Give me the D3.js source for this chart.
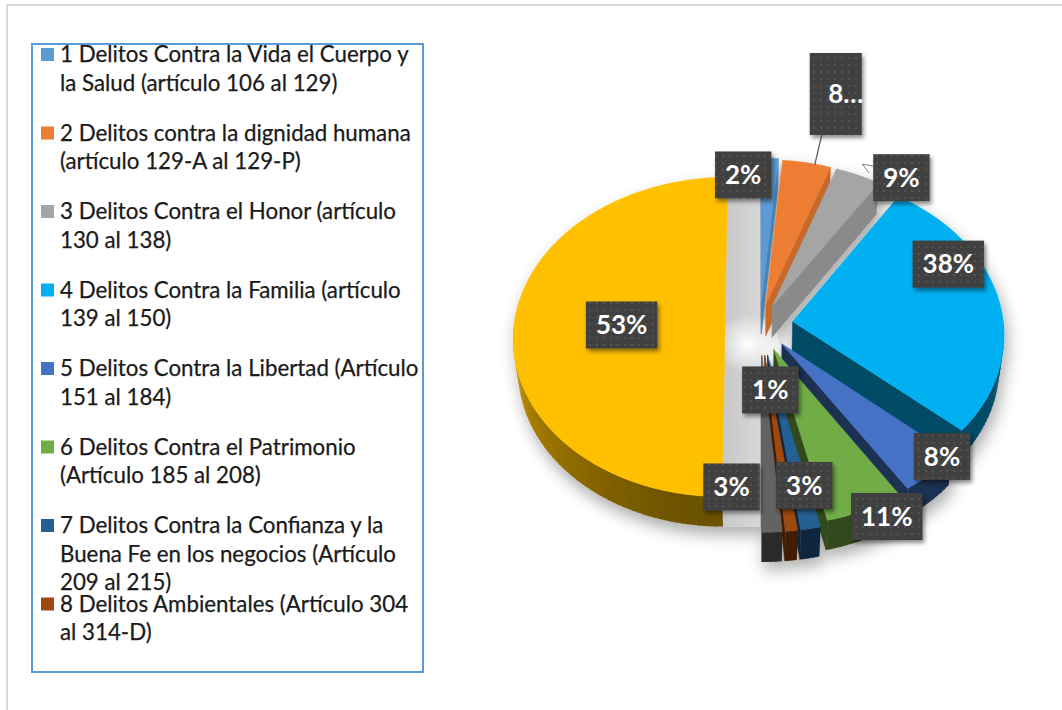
<!DOCTYPE html>
<html>
<head>
<meta charset="utf-8">
<script src="https://cdn.jsdelivr.net/npm/d3@7"></script>
<style>
  body { margin: 0; background: #fff; }
  svg { display: block; }
</style>
</head>
<body>
<svg id="chart"></svg>
<script>
// legend categories (line breaks as wrapped in the original)
const categories = [
  "1 Delitos Contra la Vida el Cuerpo y\nla Salud (artículo 106 al 129)",
  "2 Delitos contra la dignidad humana\n(artículo 129-A al 129-P)",
  "3 Delitos Contra el Honor (artículo\n130 al 138)",
  "4 Delitos Contra la Familia (artículo\n139 al 150)",
  "5 Delitos Contra la Libertad (Artículo\n151 al 184)",
  "6 Delitos Contra el Patrimonio\n(Artículo 185 al 208)",
  "7 Delitos Contra la Confianza y la\nBuena Fe en los negocios (Artículo\n209 al 215)",
  "8 Delitos Ambientales (Artículo 304\nal 314-D)"
];
// slice sizes as drawn (share of the pie), slices 9 and 10 are not in the legend
const sliceValues = [1.4, 4.0, 3.75, 27.2, 4.45, 5.55, 1.4, 0.85, 1.4, 50.0];
const labelTexts = ["2%", "8…", "9%", "38%", "8%", "11%", "3%", "1%", "3%", "53%"];
const colors = ["#5B9BD5", "#ED7D31", "#A5A5A5", "#00B0F0", "#4472C4",
                "#70AD47", "#255E91", "#9E480E", "#636363", "#FFC000"];

// layout
const W = 1062, Hh = 710;
const explode = [30, 28, 28, 33, 33, 35, 40, 40, 40, 35];
// label anchor: [angle in degrees, radius fraction]
const labelAnchor = [[354, 0.88], [14, 1.55], [37, 1.1], [64, 0.85], [133, 0.97],
                     [153, 1.07], [168, 0.77], [173, 0.21], [190, 0.77], [270, 0.49]];

const svg = d3.select("#chart").attr("width", W).attr("height", Hh);
const defs = svg.append("defs");

// chart border
svg.append("rect").attr("x", 7).attr("y", 5).attr("width", 1200).attr("height", 900)
  .attr("fill", "none").attr("stroke", "#d9d9d9").attr("stroke-width", 2);

// ---------- 3D pie ----------
const cx = 760, cy = 325, R = 211, H = 48, phi = 48.8 * Math.PI / 180, f = 1850;
const rad = d => d * Math.PI / 180;

function proj(u, v, z) {
  const d = v * Math.cos(phi) - z * Math.sin(phi);
  const s = f / (f + d);
  return [cx + u * s, cy - (v * Math.sin(phi) + z * Math.cos(phi)) * s];
}

const arcs = d3.pie().sort(null).value(d => d)(sliceValues);
const slices = arcs.map((a, i) => {
  const m = (a.startAngle + a.endAngle) / 2;
  return {
    i, a0: a.startAngle, a1: a.endAngle, m,
    ex: explode[i] * Math.sin(m), ev: explode[i] * Math.cos(m),
    color: colors[i]
  };
});

function pt(sl, t, r, z) {
  return proj(r * Math.sin(t) + sl.ex, r * Math.cos(t) + sl.ev, z);
}
const line = d3.line();

// shadow + glow filters
const fs = defs.append("filter").attr("id", "pieShadow")
  .attr("x", "-20%").attr("y", "-20%").attr("width", "140%").attr("height", "140%");
fs.append("feDropShadow").attr("dx", 3).attr("dy", 8).attr("stdDeviation", 8)
  .attr("flood-color", "#000").attr("flood-opacity", 0.33);

const fl = defs.append("filter").attr("id", "lblShadow")
  .attr("x", "-30%").attr("y", "-30%").attr("width", "160%").attr("height", "160%");
fl.append("feDropShadow").attr("dx", 2).attr("dy", 3).attr("stdDeviation", 2)
  .attr("flood-color", "#000").attr("flood-opacity", 0.45);

const glow = defs.append("radialGradient").attr("id", "glow");
glow.append("stop").attr("offset", "0%").attr("stop-color", "#fff").attr("stop-opacity", 1);
glow.append("stop").attr("offset", "100%").attr("stop-color", "#fff").attr("stop-opacity", 0);

const bandGrad = defs.append("linearGradient").attr("id", "band")
  .attr("x1", 0).attr("x2", 1).attr("y1", 0).attr("y2", 0);
bandGrad.append("stop").attr("offset", "0%").attr("stop-color", "#c8c8c8");
bandGrad.append("stop").attr("offset", "100%").attr("stop-color", "#d6d6d6");

const pat = defs.append("pattern").attr("id", "dots").attr("patternUnits", "userSpaceOnUse")
  .attr("width", 7).attr("height", 7);
pat.append("rect").attr("width", 7).attr("height", 7).attr("fill", "#3f3f3f");
pat.append("circle").attr("cx", 2).attr("cy", 2).attr("r", 0.9).attr("fill", "#5c5c5c");

const pieG = svg.append("g").attr("filter", "url(#pieShadow)");

// inner face band left by the exploded yellow slice
const ys = slices[9];
pieG.append("path")
  .attr("d", line([proj(ys.ex, R, 0), proj(0, R, 0), proj(0, -R, -H), proj(ys.ex, -R, -H)]) + "Z")
  .attr("fill", "url(#band)");
const gc = proj(-12, -25, 0);
pieG.append("ellipse").attr("cx", gc[0]).attr("cy", gc[1]).attr("rx", 32).attr("ry", 30)
  .attr("fill", "url(#glow)");

const cam = [0, -f * Math.cos(phi), f * Math.sin(phi)];
function faceVisible(sl, a, isStart) {
  const n = isStart ? [-Math.cos(a), Math.sin(a)] : [Math.cos(a), -Math.sin(a)];
  const P = [R / 2 * Math.sin(a) + sl.ex, R / 2 * Math.cos(a) + sl.ev];
  return (cam[0] - P[0]) * n[0] + (cam[1] - P[1]) * n[1] > 0;
}
function wallShade(t) {
  const d = t * 180 / Math.PI;
  if (d <= 190) return 2.4;
  return 2.4 - (Math.min(d, 270) - 190) / 80 * 1.8;
}

// draw back to front
const order = slices.slice().sort((p, q) =>
  (R / 2 * Math.cos(q.m) + q.ev) - (R / 2 * Math.cos(p.m) + p.ev));

order.forEach(sl => {
  const g = pieG.append("g");
  const base = d3.color(sl.color);
  if (sl.i !== 9) {
    [[sl.a0, true], [sl.a1, false]].forEach(([a, st]) => {
      if (!faceVisible(sl, a, st)) return;
      const c = base.darker(a < Math.PI / 2 ? 0.5 : 2.4).formatHex();
      g.append("path")
        .attr("d", line([pt(sl, a, 0, 0), pt(sl, a, R, 0), pt(sl, a, R, -H), pt(sl, a, 0, -H)]) + "Z")
        .attr("fill", c).attr("stroke", c).attr("stroke-width", 0.5);
    });
  }
  // outer wall, front half only (small overlapping strips, shaded by direction)
  const w0 = Math.max(sl.a0, Math.PI / 2), w1 = Math.min(sl.a1, 3 * Math.PI / 2);
  if (w1 > w0) {
    const n = Math.max(1, Math.ceil((w1 - w0) / rad(1.5)));
    for (let k = 0; k < n; k++) {
      const t1 = w0 + (w1 - w0) * k / n;
      const t2 = Math.min(w1, w0 + (w1 - w0) * (k + 1) / n + rad(0.6));
      const c = base.darker(wallShade((t1 + t2) / 2)).formatHex();
      g.append("path")
        .attr("d", line([pt(sl, t1, R, 0), pt(sl, t2, R, 0), pt(sl, t2, R, -H), pt(sl, t1, R, -H)]) + "Z")
        .attr("fill", c);
    }
  }
  // top face
  const pts = [pt(sl, 0, 0, 0)];
  const n = Math.max(2, Math.ceil((sl.a1 - sl.a0) / rad(1)));
  for (let k = 0; k <= n; k++) pts.push(pt(sl, sl.a0 + (sl.a1 - sl.a0) * k / n, R, 0));
  g.append("path").attr("d", line(pts) + "Z").attr("fill", sl.color)
    .attr("stroke", sl.color).attr("stroke-width", 0.5);
});

// ---------- data labels ----------
const lblG = svg.append("g");
slices.forEach(sl => {
  const [ang, rf] = labelAnchor[sl.i];
  const [lx, ly] = pt(sl, rad(ang), rf * R, 0);
  const txt = labelTexts[sl.i];
  const cut = txt.endsWith("…");
  const g = lblG.append("g");
  const t = g.append("text").attr("font-family", "Lato, sans-serif").attr("font-weight", "bold")
    .attr("font-size", 26).attr("fill", "#fff").attr("text-anchor", "middle").text(txt);
  const tw = t.node().getComputedTextLength();
  let bw = Math.max(55, tw + 20), bh = 47;
  if (cut) { bw = 52; bh = 82; }
  if (cut) {
    // leader line down to the slice
    const tip = pt(sl, sl.m, R, 0);
    g.insert("line", "text").attr("x1", lx - 14).attr("y1", ly + bh / 2).attr("x2", tip[0] + 8).attr("y2", tip[1] + 2)
      .attr("stroke", "#595959").attr("stroke-width", 1.2);
  }
  if (sl.i === 2) {
    const x0 = lx - bw / 2, y0 = ly - bh / 2;
    g.insert("path", "text")
      .attr("d", line([[x0, y0 + 12], [x0 - 11, y0 + 10], [x0 - 4, y0 + 19]]))
      .attr("fill", "#fff").attr("stroke", "#7f7f7f").attr("stroke-width", 1);
  }
  g.insert("rect", "text").attr("x", lx - bw / 2).attr("y", ly - bh / 2)
    .attr("width", bw).attr("height", bh).attr("fill", "url(#dots)").attr("filter", "url(#lblShadow)");
  t.attr("x", cut ? lx + 10 : lx).attr("y", ly).attr("dy", "0.35em");
});

// ---------- legend ----------
svg.append("rect").attr("x", 32).attr("y", 44).attr("width", 391).attr("height", 628)
  .attr("fill", "#fff").attr("stroke", "#5B9BD5").attr("stroke-width", 2);

const rowY = d3.scaleLinear().domain([0, 1]).range([62, 140.5]);
const lineH = 28.5;
const legG = svg.append("g");
// fit font so the widest line matches the original box width
const probe = legG.append("text").attr("font-family", "Lato, sans-serif").attr("font-size", 20)
  .text("2 Delitos contra la dignidad humana");
const legendFont = 20 * 351 / probe.node().getComputedTextLength();
probe.remove();

categories.forEach((c, i) => {
  const g = legG.append("g").attr("transform", `translate(41,${rowY(i)})`);
  g.append("rect").attr("x", 0).attr("y", -14).attr("width", 13).attr("height", 13).attr("fill", colors[i]);
  const t = g.append("text").attr("font-family", "Lato, sans-serif").attr("font-size", legendFont)
    .attr("fill", "#1a1a1a").attr("stroke", "#1a1a1a").attr("stroke-width", 0.25);
  c.split("\n").forEach((ln, j) => t.append("tspan").attr("x", 19).attr("y", j * lineH).text(ln));
});
</script>
</body>
</html>
